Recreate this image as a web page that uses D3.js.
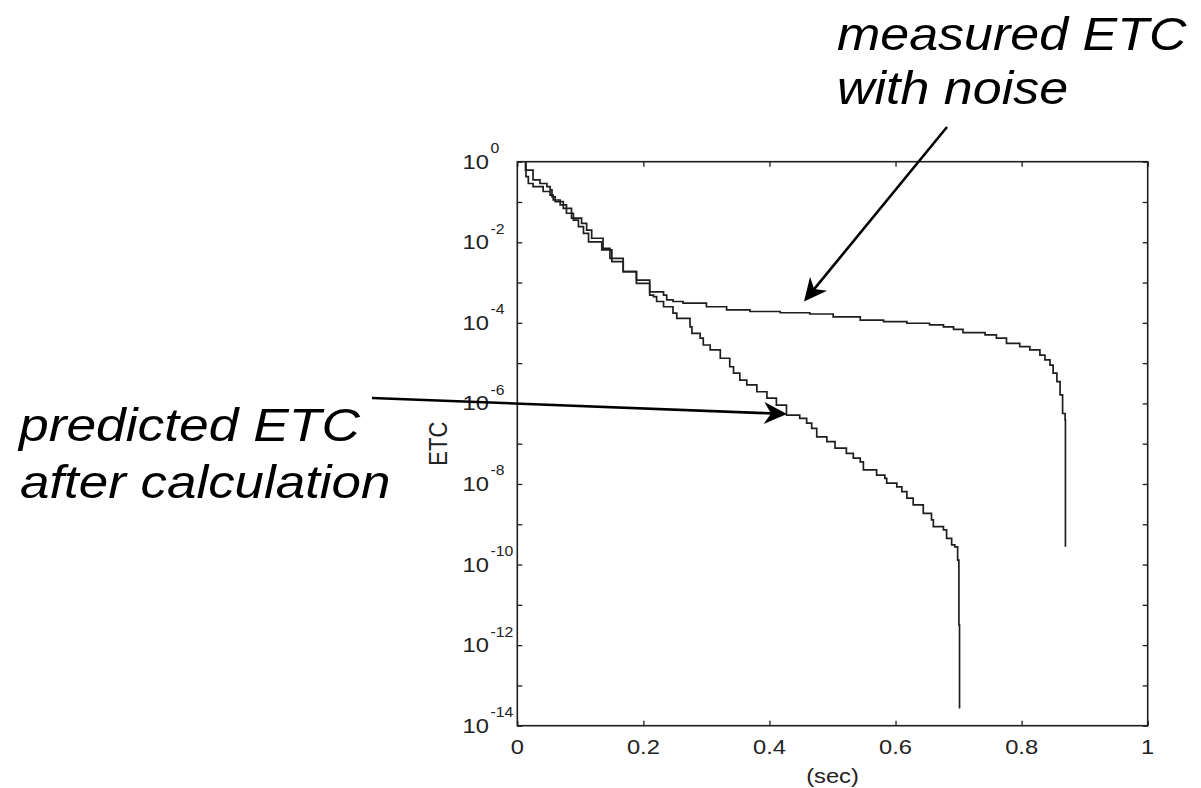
<!DOCTYPE html>
<html><head><meta charset="utf-8">
<script src="https://cdn.jsdelivr.net/npm/d3@7"></script>
<style>html,body{margin:0;padding:0;background:#fff;} svg{display:block;}</style>
</head><body>
<svg id="c" width="1201" height="788"></svg>
<script>
// ---- data ----
const measuredT = [0.012,0.013,0.025,0.036,0.047,0.052,0.055,0.060,0.073,0.086,0.102,0.110,0.118,0.136,0.147,0.168,0.189,0.210,0.232,0.237,0.247,0.263,0.300,0.332,0.369,0.417,0.464,0.501,0.544,0.581,0.618,0.654,0.676,0.692,0.707,0.742,0.760,0.776,0.797,0.813,0.829,0.837,0.845,0.850,0.856,0.861,0.865,0.869,0.8695];
const measuredV = [1,0.617,0.355,0.288,0.240,0.200,0.135,0.102,6.92e-2,3.98e-2,2.95e-2,2.00e-2,1.26e-2,7.08e-3,3.98e-3,1.86e-3,1.15e-3,5.89e-4,4.90e-4,3.72e-4,3.39e-4,3.09e-4,2.51e-4,2.09e-4,1.91e-4,1.78e-4,1.66e-4,1.41e-4,1.17e-4,1.07e-4,9.77e-5,8.91e-5,7.94e-5,6.92e-5,5.75e-5,5.01e-5,4.17e-5,3.09e-5,2.57e-5,2.14e-5,1.58e-5,1.20e-5,8.91e-6,5.62e-6,3.47e-6,1.62e-6,5.62e-7,3.89e-7,2.75e-10];
const predictedT = [0.012,0.0138,0.0175,0.025,0.041,0.052,0.057,0.068,0.078,0.089,0.097,0.105,0.113,0.134,0.150,0.168,0.189,0.210,0.216,0.221,0.232,0.247,0.253,0.274,0.277,0.290,0.295,0.306,0.322,0.337,0.343,0.353,0.364,0.380,0.396,0.411,0.427,0.448,0.459,0.467,0.475,0.491,0.504,0.522,0.533,0.544,0.549,0.570,0.583,0.586,0.602,0.610,0.618,0.628,0.644,0.657,0.660,0.676,0.681,0.689,0.694,0.6985,0.7005,0.7015];
const predictedV = [1,0.427,0.288,0.240,0.182,0.148,0.112,8.51e-2,5.25e-2,3.55e-2,2.45e-2,1.66e-2,1.02e-2,6.46e-3,3.31e-3,1.86e-3,9.55e-4,4.90e-4,4.47e-4,3.39e-4,2.51e-4,1.74e-4,1.29e-4,7.94e-5,5.50e-5,4.17e-5,2.82e-5,2.14e-5,1.32e-5,8.13e-6,5.62e-6,3.80e-6,2.88e-6,1.95e-6,1.35e-6,9.12e-7,5.13e-7,4.27e-7,3.24e-7,2.40e-7,1.48e-7,1.12e-7,7.76e-8,5.75e-8,4.37e-8,3.55e-8,2.24e-8,1.66e-8,1.38e-8,1.05e-8,8.51e-9,6.46e-9,4.47e-9,3.02e-9,1.86e-9,1.29e-9,8.71e-10,7.24e-10,4.47e-10,3.09e-10,2.75e-10,1.29e-10,3.16e-12,2.69e-14];
const xTickValues = [0,0.2,0.4,0.6,0.8,1];
const xTickLabels = ["0","0.2","0.4","0.6","0.8","1"];
const yMajorExp = [0,-2,-4,-6,-8,-10,-12,-14];
const yMinorExp = [-1,-3,-5,-7,-9,-11,-13];
const xLabel = "(sec)";
const yLabel = "ETC";
const annMeasured = ["measured ETC","with noise"];
const annPredicted = ["predicted ETC","after calculation"];

// ---- layout ----
const L = 517.3, T = 161.7, R = 1147.7, B = 725.7;
const W = R - L, H = B - T;
const SX = 1.13; // horizontal stretch of the original rendering
const ink = "#1e1e1e";

const svg = d3.select("#c");
const x = d3.scaleLinear().domain([0,1]).range([L,R]);
const y = d3.scaleLog().domain([1e-14,1]).range([B,T]);

svg.append("defs").append("clipPath").attr("id","clip")
  .append("rect").attr("x",L).attr("y",T).attr("width",W).attr("height",H);

// curves
const line = d3.line().x(d=>x(d[0])).y(d=>y(d[1])).curve(d3.curveStepAfter);
const g = svg.append("g").attr("clip-path","url(#clip)");
[[measuredT,measuredV],[predictedT,predictedV]].forEach(([ts,vs])=>{
  g.append("path").datum(ts.map((t,i)=>[t,vs[i]]))
   .attr("d",line).attr("fill","none").attr("stroke",ink).attr("stroke-width",1.7);
});

// axes (ticks inward on all four sides)
const tk = 5;
const axB = d3.axisBottom(x).tickValues(xTickValues).tickSize(-tk).tickFormat("");
const axT = d3.axisTop(x).tickValues(xTickValues).tickSize(-tk).tickFormat("");
const allY = yMajorExp.concat(yMinorExp).map(e=>Math.pow(10,e));
const axL = d3.axisLeft(y).tickValues(allY).tickSize(-tk).tickFormat("");
const axR = d3.axisRight(y).tickValues(allY).tickSize(-tk).tickFormat("");
[[axB,`translate(0,${B})`],[axT,`translate(0,${T})`],[axL,`translate(${L},0)`],[axR,`translate(${R},0)`]].forEach(([a,tr])=>{
  const gg = svg.append("g").attr("transform",tr).call(a);
  gg.select(".domain").remove();
  gg.selectAll(".tick line").attr("stroke",ink).attr("stroke-width",1.3);
});
svg.append("rect").attr("x",L).attr("y",T).attr("width",W).attr("height",H)
  .attr("fill","none").attr("stroke",ink).attr("stroke-width",1.6);

function stext(px,py,str,size,anchor,opts={}){
  const t = svg.append("text")
    .attr("transform",`translate(${px},${py}) scale(${opts.sx||SX},1)` + (opts.rot?` rotate(${opts.rot})`:""))
    .attr("font-family","'Liberation Sans', Arial, Helvetica, sans-serif")
    .attr("font-size",size).attr("fill",opts.fill||"#222")
    .attr("text-anchor",anchor).text(str);
  if(opts.italic) t.attr("font-style","italic");
  return t;
}

// x tick labels
xTickValues.forEach((v,i)=>stext(x(v),754,xTickLabels[i],21,"middle"));
stext(x(0.5),783,xLabel,21,"middle");

// y tick labels 10^e
yMajorExp.forEach(e=>{
  const py = y(Math.pow(10,e));
  stext(489,py+7,"10",21,"end");
  stext(490.5,py-8.5,String(e),14,"start");
});
// y label
stext(438,443.7,yLabel,22,"middle",{rot:-90}).attr("dy","0.35em");

// annotations
stext(837,50,annMeasured[0],46,"start",{italic:true,fill:"#000"});
stext(837,104,annMeasured[1],46,"start",{italic:true,fill:"#000"});
stext(19,441,annPredicted[0],46,"start",{italic:true,fill:"#000",sx:1.16});
stext(20,498,annPredicted[1],46,"start",{italic:true,fill:"#000",sx:1.15});

function arrow(fx,fy,tx,ty){
  const dx=tx-fx, dy=ty-fy, len=Math.hypot(dx,dy), ux=dx/len, uy=dy/len, nx=-uy, ny=ux;
  const Lh=23, Wh=11, notch=16;
  svg.append("line").attr("x1",fx).attr("y1",fy).attr("x2",tx-ux*notch).attr("y2",ty-uy*notch)
    .attr("stroke","#000").attr("stroke-width",2.6);
  const p=[[tx,ty],[tx-ux*Lh+nx*Wh,ty-uy*Lh+ny*Wh],[tx-ux*notch,ty-uy*notch],[tx-ux*Lh-nx*Wh,ty-uy*Lh-ny*Wh]];
  svg.append("path").attr("d","M"+p.map(q=>q.join(",")).join("L")+"Z").attr("fill","#000");
}
arrow(947,127,804,301.5);
arrow(372,398,787,414);
</script>
</body></html>
